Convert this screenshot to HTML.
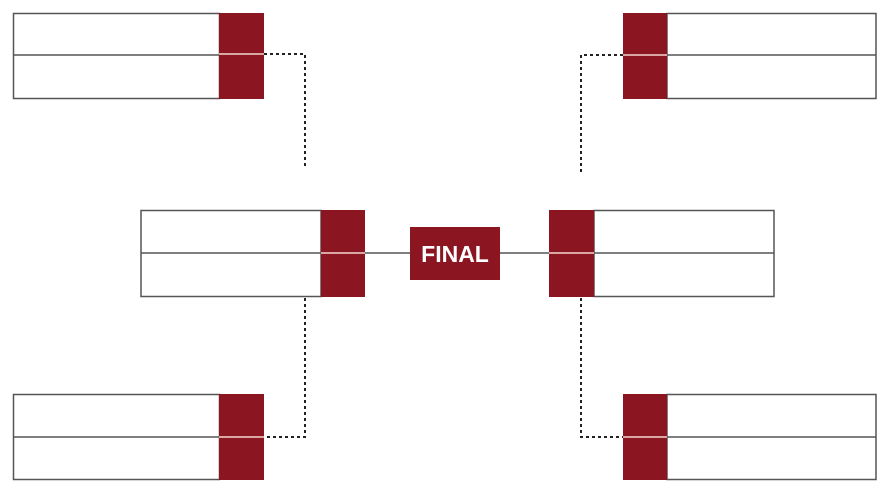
<!DOCTYPE html>
<html><head><style>
body{margin:0;width:880px;height:495px;background:#fff;overflow:hidden;font-family:"Liberation Sans",sans-serif}
</style></head><body>
<svg width="880" height="495" xmlns="http://www.w3.org/2000/svg">
<g fill="none" stroke="#555" stroke-width="1.5">
<rect x="13.5" y="13.5" width="206" height="85"/><line x1="13" y1="55" x2="219" y2="55"/>
<rect x="667" y="13.5" width="209" height="85"/><line x1="667" y1="55" x2="876" y2="55"/>
<rect x="141" y="210.5" width="180" height="86"/><line x1="141" y1="253" x2="321" y2="253"/>
<rect x="594" y="210.5" width="180" height="86"/><line x1="594" y1="253" x2="774" y2="253"/>
<rect x="13.5" y="394.5" width="206" height="85"/><line x1="13" y1="437" x2="219" y2="437"/>
<rect x="667" y="394.5" width="209" height="85"/><line x1="667" y1="437" x2="876" y2="437"/>
<line x1="365" y1="253" x2="410" y2="253"/><line x1="500" y1="253" x2="549" y2="253"/>
</g>
<g fill="#8b1520">
<rect x="219" y="13" width="45" height="86"/>
<rect x="623" y="13" width="44" height="86"/>
<rect x="321" y="210" width="44" height="87"/>
<rect x="549" y="210" width="45" height="87"/>
<rect x="219" y="394" width="45" height="86"/>
<rect x="623" y="394" width="44" height="86"/>
<rect x="410" y="227" width="90" height="53"/>
</g>
<g stroke="#f3d6cf" stroke-width="1.5">
<line x1="219" y1="54" x2="264" y2="54"/><line x1="623" y1="55" x2="667" y2="55"/>
<line x1="321" y1="253" x2="365" y2="253"/><line x1="549" y1="253" x2="594" y2="253"/>
<line x1="219" y1="437" x2="264" y2="437"/><line x1="623" y1="437" x2="667" y2="437"/>
</g>
<g fill="none" stroke="#222" stroke-width="2" stroke-dasharray="3,3">
<polyline points="264,54 305,54 305,166"/>
<polyline points="623,55 581,55 581,174"/>
<polyline points="305,298 305,437 264,437"/>
<polyline points="581,298 581,437 623,437"/>
</g>
<text x="455" y="262" text-anchor="middle" fill="#fff" font-family="Liberation Sans,sans-serif" font-weight="bold" font-size="23">FINAL</text>
</svg>
</body></html>
